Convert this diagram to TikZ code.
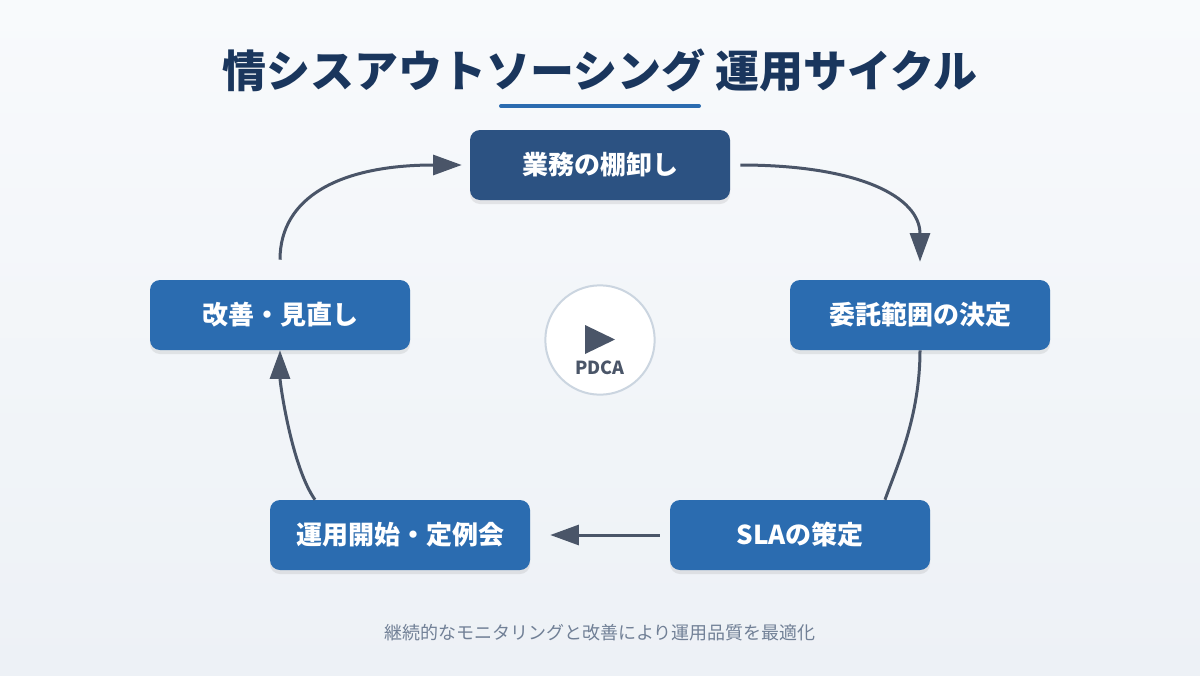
\documentclass[tikz,border=0pt]{standalone}
\usepackage{fontspec}
\setmainfont{Noto Sans CJK JP}
\usetikzlibrary{arrows.meta,shadows,calc}
\definecolor{bgtop}{HTML}{F8FAFC}
\definecolor{bgbot}{HTML}{EDF1F6}
\definecolor{titlec}{HTML}{1A365D}
\definecolor{accent}{HTML}{2B6CB0}
\definecolor{topbox}{HTML}{2C5282}
\definecolor{arrowc}{HTML}{4A5568}
\definecolor{ringc}{HTML}{CBD5E0}
\definecolor{subc}{HTML}{718096}
\begin{document}
\begin{tikzpicture}[x=0.75pt,y=-0.75pt,
  stepbox/.style={fill=accent, rounded corners=7.5pt, minimum width=195pt, minimum height=52.5pt, inner sep=0pt,
    text=white, font=\bfseries\fontsize{19.5}{22}\selectfont,
    drop shadow={opacity=0.16, shadow xshift=0pt, shadow yshift=-3pt}},
  flow/.style={draw=arrowc, line width=2.25pt, -{Triangle[length=21.5pt,width=15pt]}},
  plainflow/.style={draw=arrowc, line width=2.25pt},
]
\useasboundingbox (0,0) rectangle (1200,675);
\shade[top color=bgtop, bottom color=bgbot] (0,0) rectangle (1200,675);

% title
\node[font=\bfseries\fontsize{33}{40}\selectfont, text=titlec] (title) at (600,70) {情シスアウトソーシング 運用サイクル};
\draw[accent, line width=3pt, line cap=round] (501,106) -- (699,106);

% boxes
\node[stepbox, fill=topbox] (inv) at (600,165) {業務の棚卸し};
\node[stepbox] (scope) at (920,315) {委託範囲の決定};
\node[stepbox] (sla) at (800,535) {SLAの策定};
\node[stepbox] (run) at (400,535) {運用開始・定例会};
\node[stepbox] (rev) at (280,315) {改善・見直し};

% hub
\node[circle, fill=white, draw=ringc, line width=1.5pt, minimum size=82pt, inner sep=0pt] (hub) at (600,340) {};
\fill[arrowc] (585,325) -- (615,339.5) -- (585,354) -- cycle;
\node[font=\bfseries\fontsize{13.5}{16}\selectfont, text=arrowc] (pdca) at (600,368) {PDCA};

% connectors
\coordinate (a1s) at ($(rev.north)+(0,-20)$);
\coordinate (a1e) at ($(inv.west)+(-8,0)$);
\draw[flow] (a1s) .. controls (280,196.7) and (340.7,165) .. (a1e);

\coordinate (a2s) at ($(inv.east)+(10,0)$);
\coordinate (a2e) at ($(scope.north)+(0,-18)$);
\draw[flow] (a2s) .. controls (860,165) and (920,197.3) .. (a2e);

\coordinate (a3e) at ($(sla.north)+(85,0)$);
\draw[plainflow] (scope.south) .. controls (920,416.7) and (896.7,466.7) .. (a3e);

\coordinate (a4s) at ($(sla.west)+(-10,0)$);
\coordinate (a4e) at ($(run.east)+(20,0)$);
\draw[flow] (a4s) -- (a4e);

\coordinate (a5s) at ($(run.north)+(-85,0)$);
\draw[flow] (a5s) .. controls (291.7,466.7) and (280,383.3) .. (rev.south);

% footer
\node[font=\fontsize{13.5}{16}\selectfont, text=subc] (foot) at (600,633) {継続的なモニタリングと改善により運用品質を最適化};
\end{tikzpicture}
\end{document}
